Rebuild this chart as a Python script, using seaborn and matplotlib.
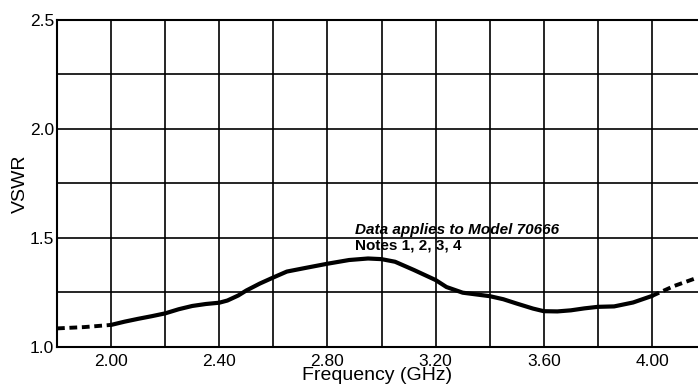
import numpy as np
import pandas as pd
import matplotlib
matplotlib.use("Agg")
import matplotlib.pyplot as plt
import seaborn as sns

# ---- data ----
freq_lo = [1.80, 1.90, 2.00]
vswr_lo = [1.084, 1.090, 1.100]

freq_main = [2.00, 2.05, 2.10, 2.15, 2.20, 2.25, 2.30, 2.35, 2.40, 2.43, 2.47, 2.50,
             2.55, 2.60, 2.65, 2.72, 2.80, 2.88, 2.95, 3.00, 3.05, 3.12, 3.20,
             3.24, 3.30, 3.35, 3.40, 3.45, 3.50, 3.56, 3.60, 3.65, 3.70, 3.75,
             3.80, 3.86, 3.93, 4.00]
vswr_main = [1.100, 1.115, 1.128, 1.140, 1.153, 1.172, 1.187, 1.196, 1.202, 1.212,
             1.235, 1.258, 1.290, 1.318, 1.345, 1.362, 1.381, 1.398, 1.405, 1.402,
             1.390, 1.352, 1.306, 1.274, 1.248, 1.240, 1.232, 1.218, 1.198, 1.175,
             1.163, 1.162, 1.167, 1.176, 1.183, 1.185, 1.203, 1.233]

freq_hi = [4.00, 4.08, 4.17]
vswr_hi = [1.233, 1.278, 1.318]

x_ticks = [2.00, 2.40, 2.80, 3.20, 3.60, 4.00]
x_tick_labels = ["2.00", "2.40", "2.80", "3.20", "3.60", "4.00"]
y_ticks = [1.0, 1.5, 2.0, 2.5]
y_tick_labels = ["1.0", "1.5", "2.0", "2.5"]
x_label = "Frequency (GHz)"
y_label = "VSWR"
note_line1 = "Data applies to Model 70666"
note_line2 = "Notes 1, 2, 3, 4"

sns.set_theme(style="white")
plt.rcParams["font.family"] = ["Liberation Sans", "DejaVu Sans"]

fig = plt.figure(figsize=(6.98, 3.90), dpi=100)
ax = fig.add_axes([57/698, (390-346.7)/390, 1 - 57/698, (346.7-20)/390])

df_main = pd.DataFrame({"f": freq_main, "v": vswr_main})
df_lo = pd.DataFrame({"f": freq_lo, "v": vswr_lo})
df_hi = pd.DataFrame({"f": freq_hi, "v": vswr_hi})

sns.lineplot(data=df_main, x="f", y="v", ax=ax, color="black", lw=3.0,
             sort=False, estimator=None, solid_capstyle="round", zorder=5)
for d in (df_lo, df_hi):
    sns.lineplot(data=d, x="f", y="v", ax=ax, color="black", lw=2.8,
                 sort=False, estimator=None, zorder=5, linestyle=(0, (2.0, 1.2)))

ax.set_xlim(1.80, 4.17)
ax.set_ylim(1.0, 2.5)

ax.set_xticks(np.arange(1.80, 4.18, 0.20), minor=True)
ax.set_yticks(np.arange(1.0, 2.51, 0.25), minor=True)
ax.set_xticks(x_ticks)
ax.set_xticklabels(x_tick_labels)
ax.set_yticks(y_ticks)
ax.set_yticklabels(y_tick_labels)
ax.grid(True, which="both", color="black", lw=1.2)
ax.tick_params(axis="both", which="both", length=0, labelsize=12.5, colors="black")
ax.tick_params(axis="x", pad=5)
ax.tick_params(axis="y", pad=2)

ax.set_xlabel(x_label, fontsize=14, color="black", labelpad=-1)
ax.set_ylabel(y_label, fontsize=14, color="black", labelpad=1)

for side in ("left", "bottom", "top"):
    ax.spines[side].set_visible(True)
    ax.spines[side].set_color("black")
    ax.spines[side].set_linewidth(1.5)
ax.spines["right"].set_visible(False)

ax.text(2.90, 1.570, note_line1, fontsize=11, fontweight="bold", fontstyle="italic",
        va="top", ha="left", color="black", zorder=6)
ax.text(2.90, 1.497, note_line2, fontsize=11, fontweight="bold",
        va="top", ha="left", color="black", zorder=6)

fig.savefig("out.png", dpi=100)
